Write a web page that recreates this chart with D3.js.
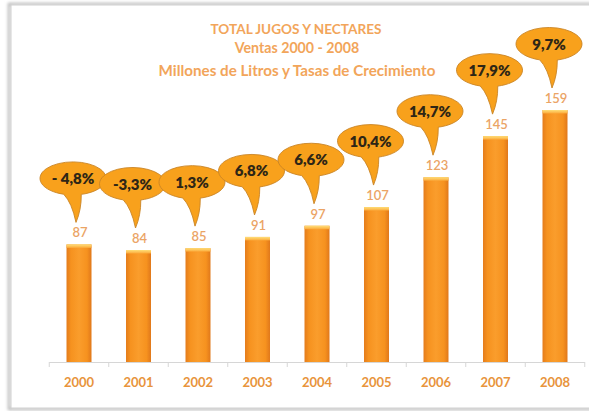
<!DOCTYPE html>
<html>
<head>
<meta charset="utf-8">
<script src="https://cdn.jsdelivr.net/npm/d3@7/dist/d3.min.js"></script>
<style>
  html, body { margin: 0; padding: 0; background: #ffffff; }
  svg { display: block; font-family: Lato, "Open Sans", sans-serif; }
</style>
</head>
<body>
<svg id="chart" width="589" height="411"></svg>
<script>
// Ventas anuales de jugos y néctares (millones de litros)
const years = ["2000", "2001", "2002", "2003", "2004", "2005", "2006", "2007", "2008"];
const ventas = [87, 84, 85, 91, 97, 107, 123, 145, 159];
// Tasas de crecimiento anual, tal como se rotulan
const tasas = ["- 4,8%", "-3,3%", "1,3%", "6,8%", "6,6%", "10,4%", "14,7%", "17,9%", "9,7%"];
const titleLines = ["TOTAL JUGOS Y NECTARES", "Ventas 2000 - 2008", "Millones de Litros y Tasas de Crecimiento"];

const svg = d3.select("#chart");
const defs = svg.append("defs");

// Marco con sombra suave
const shadow = defs.append("filter").attr("id", "frameShadow")
  .attr("x", "-5%").attr("y", "-5%").attr("width", "110%").attr("height", "110%");
shadow.append("feGaussianBlur").attr("stdDeviation", 1.6);

svg.append("rect")
  .attr("x", 9).attr("y", 4).attr("width", 620).attr("height", 405)
  .attr("fill", "none").attr("stroke", "#b9b9b9").attr("stroke-width", 2.5)
  .attr("filter", "url(#frameShadow)");
svg.append("rect")
  .attr("x", 11).attr("y", 5).attr("width", 620).attr("height", 403)
  .attr("fill", "#ffffff").attr("stroke", "#d0d0d0").attr("stroke-width", 1);

// Degradado de las barras
const barGrad = defs.append("linearGradient").attr("id", "barGrad")
  .attr("x1", "0").attr("x2", "1").attr("y1", "0").attr("y2", "0");
barGrad.append("stop").attr("offset", "0%").attr("stop-color", "#e47c1c");
barGrad.append("stop").attr("offset", "18%").attr("stop-color", "#f6921f");
barGrad.append("stop").attr("offset", "50%").attr("stop-color", "#fa9d2c");
barGrad.append("stop").attr("offset", "82%").attr("stop-color", "#f6921f");
barGrad.append("stop").attr("offset", "100%").attr("stop-color", "#e0781b");

const capGrad = defs.append("linearGradient").attr("id", "capGrad")
  .attr("x1", "0").attr("x2", "0").attr("y1", "0").attr("y2", "1");
capGrad.append("stop").attr("offset", "0%").attr("stop-color", "#ffe07a");
capGrad.append("stop").attr("offset", "100%").attr("stop-color", "#fba93a");

// Escalas
const baseY = 362;
const x = d3.scaleBand()
  .domain(years)
  .range([49.25, 49.25 + 9 * 59.5])
  .paddingInner(0.58)
  .paddingOuter(0.29);
const y = d3.scaleLinear().domain([24, 159]).range([baseY, 110]);

const cx = d => x(d) + x.bandwidth() / 2;

// Título
const titleG = svg.append("g").attr("fill", "#f2a55a").attr("font-weight", 700).attr("text-anchor", "middle");
titleG.selectAll("text").data(titleLines).join("text")
  .attr("x", (d, i) => [296, 297, 297][i])
  .attr("y", (d, i) => [34, 53, 76][i])
  .attr("font-size", (d, i) => [13.6, 14.2, 15.2][i])
  .text(d => d);

// Eje X
const xAxis = d3.axisBottom(x).tickSize(0).tickPadding(16);
const axisG = svg.append("g").attr("transform", `translate(0,${baseY})`).call(xAxis);
axisG.select(".domain").attr("stroke", "#d6d6d6").attr("stroke-width", 1)
  .attr("d", `M${x.range()[0]},0.5H${x.range()[1]}`);
axisG.selectAll(".tick text")
  .attr("fill", "#e8943c").attr("font-size", 13).attr("font-weight", 700)
  .attr("font-family", "Lato, sans-serif");
// Marcas entre categorías
axisG.selectAll(".sep").data(d3.range(years.length + 1)).join("line")
  .attr("class", "sep")
  .attr("x1", i => x.range()[0] + i * x.step())
  .attr("x2", i => x.range()[0] + i * x.step())
  .attr("y1", 0).attr("y2", 5)
  .attr("stroke", "#d6d6d6");

const data = years.map((yr, i) => ({ year: yr, value: ventas[i], tasa: tasas[i] }));

// Barras
const bars = svg.append("g").selectAll("g").data(data).join("g");
bars.append("rect")
  .attr("x", d => x(d.year))
  .attr("y", d => y(d.value))
  .attr("width", x.bandwidth())
  .attr("height", d => baseY - y(d.value))
  .attr("fill", "url(#barGrad)");
bars.append("rect")
  .attr("x", d => x(d.year))
  .attr("y", d => y(d.value))
  .attr("width", x.bandwidth())
  .attr("height", 3.5)
  .attr("fill", "url(#capGrad)");

// Valores
svg.append("g").selectAll("text").data(data).join("text")
  .attr("x", d => cx(d.year) + 1)
  .attr("y", d => y(d.value) - 7)
  .attr("text-anchor", "middle")
  .attr("font-size", 13)
  .attr("font-weight", 600)
  .attr("fill", "#eba465")
  .text(d => d.value);

// Globos con la tasa de crecimiento
const rx = 33, ry = 16.5;
function balloonPath(ex, ey, tx, ty) {
  const ang = Math.atan2((ty - ey) / ry, (tx - ex) / rx);
  const a1 = ang + 0.32, a2 = ang - 0.22;
  const p1 = [ex + rx * Math.cos(a1), ey + ry * Math.sin(a1)];
  const p2 = [ex + rx * Math.cos(a2), ey + ry * Math.sin(a2)];
  const c1 = [p2[0] + (tx - p2[0]) * 0.35 + 2, p2[1] + (ty - p2[1]) * 0.55];
  const c2 = [p1[0] + (tx - p1[0]) * 0.75 - 1, p1[1] + (ty - p1[1]) * 0.3];
  return `M${p2[0]},${p2[1]}Q${c1[0]},${c1[1]} ${tx},${ty}` +
         `Q${c2[0]},${c2[1]} ${p1[0]},${p1[1]}` +
         `A${rx},${ry} 0 1 1 ${p2[0]},${p2[1]}Z`;
}

const balloons = svg.append("g").selectAll("g").data(data).join("g");
balloons.append("path")
  .attr("d", d => {
    const top = y(d.value);
    return balloonPath(cx(d.year) - 6, top - 66, cx(d.year) - 3, top - 22);
  })
  .attr("fill", "#f8a11c")
  .attr("stroke", "#c98526")
  .attr("stroke-width", 0.9);
balloons.append("text")
  .attr("x", d => cx(d.year) - 6)
  .attr("y", d => y(d.value) - 66 + 5.5)
  .attr("text-anchor", "middle")
  .attr("font-size", 15)
  .attr("font-weight", 800)
  .attr("fill", "#2e2616")
  .text(d => d.tasa);
</script>
</body>
</html>
